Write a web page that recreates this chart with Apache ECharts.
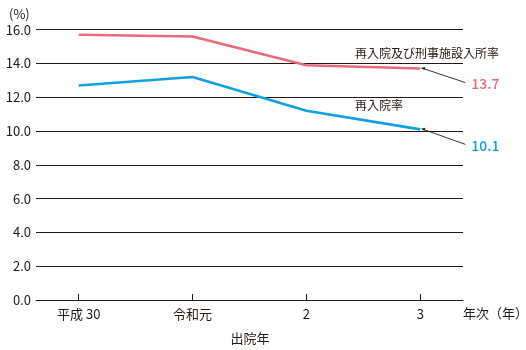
<!DOCTYPE html>
<html>
<head>
<meta charset="utf-8">
<script src="https://cdn.jsdelivr.net/npm/echarts@6/dist/echarts.min.js"></script>
<style>
  html, body { margin: 0; padding: 0; background: #fff; }
  #chart { width: 526px; height: 350px; }
</style>
</head>
<body>
<div id="chart"></div>
<script>
// 出院年ごとの再入院率・再入院及び刑事施設入所率
const categories = ['平成 30', '令和元', '2', '3'];
const reentryOrPrison = [15.7, 15.6, 13.9, 13.7]; // 再入院及び刑事施設入所率
const reentry = [12.7, 13.2, 11.2, 10.1];          // 再入院率
const yTicks = [0, 2, 4, 6, 8, 10, 12, 14, 16];

const PINK = '#EA6A78';
const BLUE = '#0FA0E2';
const INK = '#231815';
const FONT = '"Noto Sans CJK JP", "Noto Sans", sans-serif';

const chart = echarts.init(document.getElementById('chart'), null, { renderer: 'canvas' });

const toPairs = arr => arr.map((v, i) => [i, v]);
const catIdx = categories.map((_, i) => i);

chart.setOption({
  animation: false,
  textStyle: { fontFamily: FONT },
  grid: { left: 36, right: 63, top: 29.7, bottom: 50, containLabel: false },
  xAxis: {
    type: 'value',
    min: -0.375,
    max: categories.length - 1 + 0.375,
    axisLine: { show: true, lineStyle: { color: INK, width: 1 } },
    axisTick: { show: true, inside: true, length: 6, customValues: catIdx, lineStyle: { color: INK } },
    axisLabel: {
      customValues: catIdx,
      formatter: v => categories[Math.round(v)],
      color: INK, fontSize: 13, fontFamily: FONT, margin: 8
    },
    splitLine: { show: false }
  },
  yAxis: {
    type: 'value',
    min: yTicks[0],
    max: yTicks[yTicks.length - 1],
    interval: 2,
    axisLine: { show: false },
    axisTick: { show: false },
    axisLabel: { formatter: v => v.toFixed(1), color: INK, fontSize: 13, fontFamily: FONT, margin: 5 },
    splitLine: { show: true, lineStyle: { color: INK, width: 1 } }
  },
  series: [
    {
      name: '再入院及び刑事施設入所率',
      type: 'line',
      data: toPairs(reentryOrPrison),
      symbol: 'none',
      lineStyle: { color: PINK, width: 2.6 },
      z: 3
    },
    {
      name: '再入院率',
      type: 'line',
      data: toPairs(reentry),
      symbol: 'none',
      lineStyle: { color: BLUE, width: 2.6 },
      z: 3
    }
  ]
});

// 系列名と最終年の値(引出線付き)
function buildAnnotations() {
  const last = categories.length - 1;
  const pEnd = chart.convertToPixel({ gridIndex: 0 }, [last, reentryOrPrison[last]]);
  const bEnd = chart.convertToPixel({ gridIndex: 0 }, [last, reentry[last]]);
  const elements = [];

  function leader(pt, color, text, dx, dy) {
    elements.push({
      type: 'line', z: 10,
      shape: { x1: pt[0] + 3, y1: pt[1], x2: pt[0] + dx, y2: pt[1] + dy },
      style: { stroke: INK, lineWidth: 0.9 }
    });
    elements.push({
      type: 'polygon', z: 11,
      shape: { points: [[pt[0] + 0.5, pt[1] - 0.6], [pt[0] + 5, pt[1] - 1.6], [pt[0] + 4.2, pt[1] + 1.4]] },
      style: { fill: INK }
    });
    elements.push({
      type: 'text', z: 10,
      x: pt[0] + dx + 6, y: pt[1] + dy + 1,
      style: { text: text, fill: color, font: '500 14px ' + FONT, textVerticalAlign: 'middle' }
    });
  }
  leader(pEnd, PINK, reentryOrPrison[last].toFixed(1), 45, 14);
  leader(bEnd, BLUE, reentry[last].toFixed(1), 45, 15);

  // 系列名
  elements.push({
    type: 'text', z: 10, x: 355, y: 53,
    style: { text: '再入院及び刑事施設入所率', fill: INK, font: '12px ' + FONT, textVerticalAlign: 'middle' }
  });
  elements.push({
    type: 'text', z: 10, x: 355, y: 105,
    style: { text: '再入院率', fill: INK, font: '12px ' + FONT, textVerticalAlign: 'middle' }
  });
  // 軸タイトル
  elements.push({
    type: 'text', x: 9, y: 14,
    style: { text: '(%)', fill: INK, font: '13px ' + FONT, textVerticalAlign: 'middle' }
  });
  elements.push({
    type: 'text', x: 463, y: 313,
    style: { text: '年次（年）', fill: INK, font: '13px ' + FONT, textVerticalAlign: 'middle' }
  });
  elements.push({
    type: 'text', x: 250, y: 338,
    style: { text: '出院年', fill: INK, font: '13px ' + FONT, textAlign: 'center', textVerticalAlign: 'middle' }
  });
  chart.setOption({ graphic: { elements: elements } });
}
buildAnnotations();
</script>
</body>
</html>
